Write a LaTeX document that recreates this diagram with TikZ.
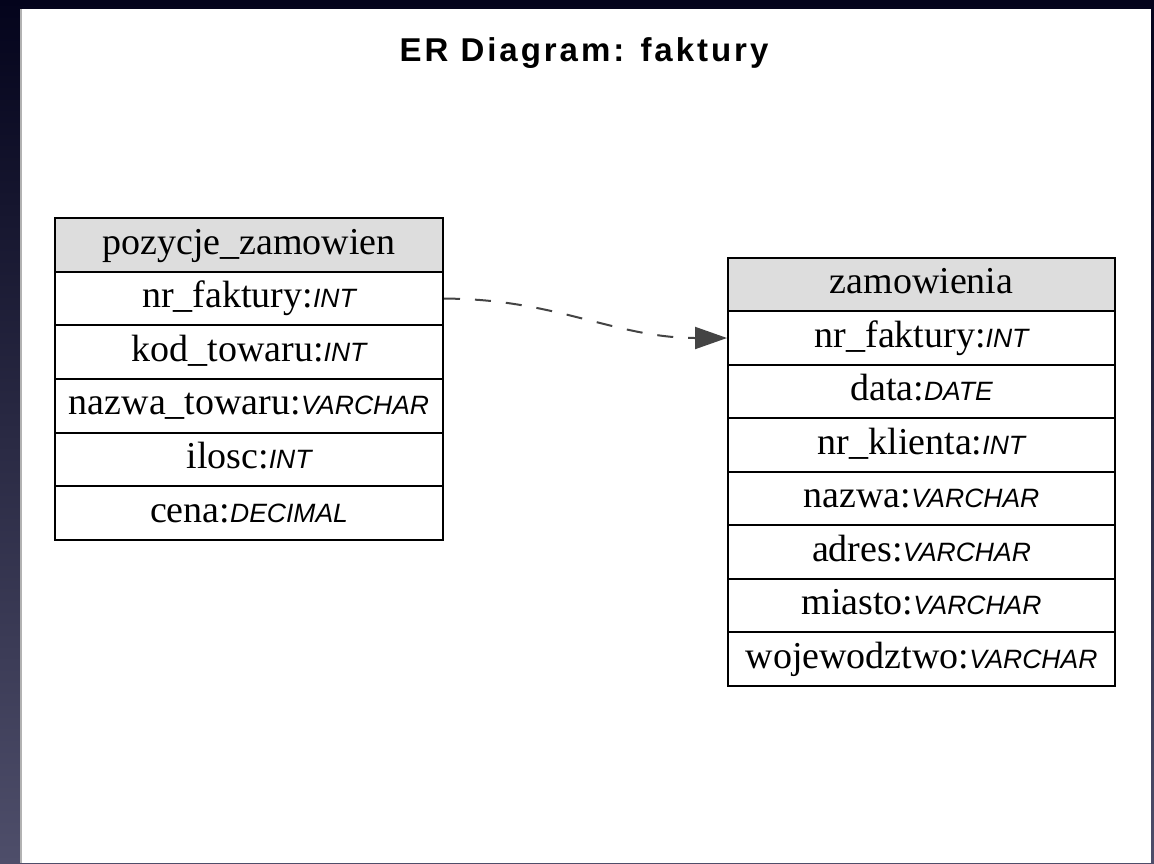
\documentclass[tikz,border=0pt]{standalone}
\usepackage{fontspec}
\setmainfont{Liberation Serif}
\newfontfamily\typefont{Liberation Sans}
\newfontfamily\titlefont{Liberation Sans}[LetterSpace=9]
\usetikzlibrary{arrows.meta}

\definecolor{headgray}{HTML}{DDDDDD}
\definecolor{edgegray}{HTML}{444444}
\definecolor{bgtop}{HTML}{04041C}
\definecolor{bgbottom}{HTML}{4E4E6A}

\newcommand{\typ}[1]{{\typefont\itshape\fontsize{13.25}{15}\selectfont #1}}

\tikzset{
  cell/.style={draw=black, line width=1pt, fill=white, inner sep=0pt,
    minimum height=26.8pt, text height=13pt, text depth=4pt,
    font=\fontsize{19}{22}\selectfont},
  headcell/.style={cell, fill=headgray},
  leftcol/.style={minimum width=194pt},
  rightcol/.style={minimum width=193.5pt},
  fkline/.style={edgegray, line width=1pt, dash pattern=on 8pt off 7.5pt,
    -{Triangle[length=16pt, width=11pt]}}
}

\begin{document}
\begin{tikzpicture}[x=0.5pt, y=-0.5pt]

\useasboundingbox (0,0) rectangle (1154,863);
\shade[top color=bgtop, bottom color=bgbottom] (0,0) rectangle (1154,863);
\fill[white] (21,9) rectangle (1151,863);
\draw[gray!60, line width=1pt] (21,9) -- (21,863);

\node[anchor=base, font=\titlefont\bfseries\fontsize{16.5}{19}\selectfont] (title) at (584,61) {ER Diagram: faktury};


\node[headcell, leftcol] (pz0) at (249,245) {pozycje\_zamowien};
\foreach \txt [count=\i] in {nr\_faktury:\typ{INT}, kod\_towaru:\typ{INT}, nazwa\_towaru:\typ{VARCHAR}, ilosc:\typ{INT}, cena:\typ{DECIMAL}} {
        \node[cell, leftcol] (pz\i) at (249,{245+53.6*\i}) {\txt};
 }


\node[headcell, rightcol] (zw0) at (921.5,284.5) {zamowienia};
\foreach \txt [count=\i] in {nr\_faktury:\typ{INT}, data:\typ{DATE}, nr\_klienta:\typ{INT}, nazwa:\typ{VARCHAR}, adres:\typ{VARCHAR}, miasto:\typ{VARCHAR}, wojewodztwo:\typ{VARCHAR}} {
        \node[cell, rightcol] (zw\i) at (921.5,{284.5+53.5*\i}) {\txt};
 }


\draw[fkline] (pz1.east) to[out=0, in=180] (zw1.west);

\end{tikzpicture}
\end{document}
